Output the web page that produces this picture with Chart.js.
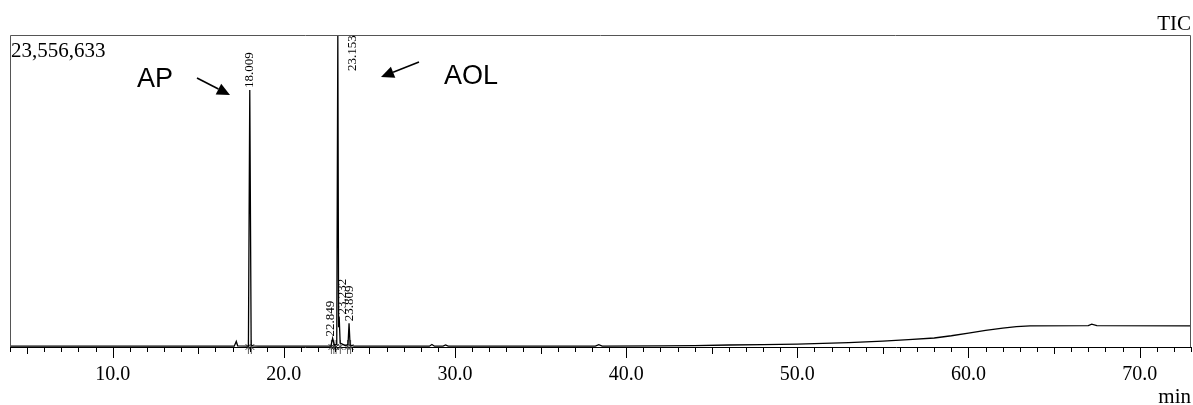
<!DOCTYPE html>
<html>
<head>
  <meta charset="UTF-8">
  <title>TIC</title>
  <script src="https://cdn.jsdelivr.net/npm/chart.js"></script>
  <style>
    html, body { margin: 0; padding: 0; background: #fff; }
    #wrap { width: 1193px; height: 405px; position: relative; }
  </style>
</head>
<body>
  <div id="wrap"><canvas id="tic"></canvas></div>
  <script>
    // retention time (min) and detector counts
    const times = [4.0, 17.1, 17.22, 17.3, 17.93, 18.009, 18.09, 18.2, 18.5,
      22.75, 22.849, 22.95, 23.09, 23.153, 23.2, 23.232, 23.29, 23.6, 23.75, 23.809, 23.87, 24.1,
      28.5, 28.65, 28.8, 29.3, 29.45, 29.6, 38.2, 38.4, 38.6,
      42, 44, 46, 48, 50, 53, 55, 56.5, 58, 59, 60, 61, 62, 62.8, 63.6, 67, 67.2, 67.5, 73.0];
    const intensity = [60000, 60000, 420000, 90000, 70000, 19400000, 150000, 90000, 60000,
      60000, 650000, 150000, 200000, 23556633, 1500000, 2300000, 300000, 100000, 200000, 1800000, 150000, 70000,
      60000, 190000, 60000, 70000, 150000, 60000, 60000, 180000, 70000,
      90000, 110000, 150000, 180000, 220000, 330000, 450000, 550000, 680000, 850000, 1050000, 1250000, 1430000, 1540000, 1600000, 1620000, 1720000, 1620000, 1600000];

    const peakTimes = [18.009, 22.849, 23.153, 23.232, 23.809];
    const peakLabels = ['18.009', '22.849', '23.153', '23.232', '23.809'];
    const peakHeights = [19400000, 650000, 23556633, 2300000, 1800000];

    const markerTimes = [17.93, 18.1, 22.78, 22.92, 23.05, 23.3, 23.72, 23.9];
    const majorTicks = [10, 20, 30, 40, 50, 60, 70];
    const yMax = 23556633;

    const serif = '"Liberation Serif", "DejaVu Serif", serif';
    const sans = '"Liberation Sans", Arial, sans-serif';

    const frame = {
      id: 'frame',
      afterDraw(chart) {
        const { ctx, chartArea: a, scales } = chart;
        const x = scales.x, y = scales.y;
        ctx.save();

        // box
        ctx.strokeStyle = '#555';
        ctx.lineWidth = 1;
        ctx.beginPath();
        ctx.moveTo(a.left + 0.5, a.bottom);
        ctx.lineTo(a.left + 0.5, a.top + 0.5);
        ctx.lineTo(a.right - 0.5, a.top + 0.5);
        ctx.lineTo(a.right - 0.5, a.bottom);
        ctx.stroke();

        // tick marks, every minute, longer every 5 and 10
        ctx.strokeStyle = '#000';
        x.ticks.forEach(t => {
          const px = Math.round(x.getPixelForValue(t.value)) + 0.5;
          const len = t.value % 10 === 0 ? 11 : (t.value % 5 === 0 ? 7 : 5);
          ctx.beginPath();
          ctx.moveTo(px, a.bottom);
          ctx.lineTo(px, a.bottom + len);
          ctx.stroke();
        });

        // peak labels (rotated)
        ctx.fillStyle = '#000';
        ctx.font = '13px ' + serif;
        ctx.textBaseline = 'middle';
        ctx.textAlign = 'left';
        peakTimes.forEach((t, i) => {
          let px = x.getPixelForValue(t);
          let py = y.getPixelForValue(peakHeights[i]) - 2;
          if (i === 2) { px += 15; py = a.top + 36; }
          if (i === 1) { px -= 2; }
          if (i === 3) { px += 3; }
          if (i === 4) { px += 1; }
          ctx.save();
          ctx.translate(px, py);
          ctx.rotate(-Math.PI / 2);
          ctx.fillText(peakLabels[i], 0, 0);
          ctx.restore();
        });

        // top-left scale value
        ctx.font = '21px ' + serif;
        ctx.textBaseline = 'alphabetic';
        ctx.fillText('23,556,633', a.left + 1, a.top + 22);

        // TIC and min
        ctx.textAlign = 'right';
        ctx.fillText('TIC', a.right, 30);
        ctx.fillText('min', a.right, 403);

        // compound names with arrows
        ctx.textAlign = 'left';
        ctx.font = '27px ' + sans;
        ctx.fillText('AP', 137, 87);
        ctx.fillText('AOL', 444, 84);
        arrow(ctx, 197, 78, 230, 95);
        arrow(ctx, 419, 62, 381, 77);

        ctx.restore();
      }
    };

    function arrow(ctx, x1, y1, x2, y2) {
      const ang = Math.atan2(y2 - y1, x2 - x1);
      const hl = 13, hw = 6;
      const bx = x2 - hl * Math.cos(ang), by = y2 - hl * Math.sin(ang);
      ctx.strokeStyle = '#000';
      ctx.lineWidth = 1.6;
      ctx.beginPath();
      ctx.moveTo(x1, y1);
      ctx.lineTo(bx, by);
      ctx.stroke();
      ctx.beginPath();
      ctx.moveTo(x2, y2);
      ctx.lineTo(bx + hw * Math.sin(ang), by - hw * Math.cos(ang));
      ctx.lineTo(bx - hw * Math.sin(ang), by + hw * Math.cos(ang));
      ctx.closePath();
      ctx.fillStyle = '#000';
      ctx.fill();
    }

    new Chart(document.getElementById('tic'), {
      type: 'line',
      data: {
        datasets: [{
          data: times.map((t, i) => ({ x: t, y: intensity[i] })),
          borderColor: '#000',
          borderWidth: 1.3,
          pointRadius: 0,
          tension: 0
        }, {
          type: 'scatter',
          data: markerTimes.map(t => ({ x: t, y: 0 })),
          pointStyle: 'crossRot',
          pointRadius: 4,
          borderColor: '#333',
          borderWidth: 1,
          clip: false
        }, {
          type: 'scatter',
          data: markerTimes.map(t => ({ x: t, y: 0 })),
          pointStyle: 'line',
          rotation: 90,
          pointRadius: 7,
          borderColor: '#666',
          borderWidth: 1,
          clip: false
        }]
      },
      options: {
        responsive: true,
        maintainAspectRatio: false,
        animation: false,
        layout: { autoPadding: false, padding: { left: 10, right: 2, top: 35, bottom: 2 } },
        plugins: { legend: { display: false }, tooltip: { enabled: false } },
        scales: {
          x: {
            type: 'linear',
            min: 4,
            max: 73,
            grid: { display: false, drawTicks: false },
            border: { display: true, color: '#000', width: 1 },
            ticks: {
              stepSize: 1,
              autoSkip: false,
              maxRotation: 0,
              padding: 16,
              color: '#000',
              font: { family: serif, size: 20, lineHeight: 1.2 },
              callback: v => majorTicks.includes(v) ? v.toFixed(1) : ''
            },
            afterFit: s => { s.paddingLeft = 0; s.paddingRight = 0; }
          },
          y: {
            display: false,
            min: 0,
            max: yMax
          }
        }
      },
      plugins: [frame]
    });
  </script>
</body>
</html>
